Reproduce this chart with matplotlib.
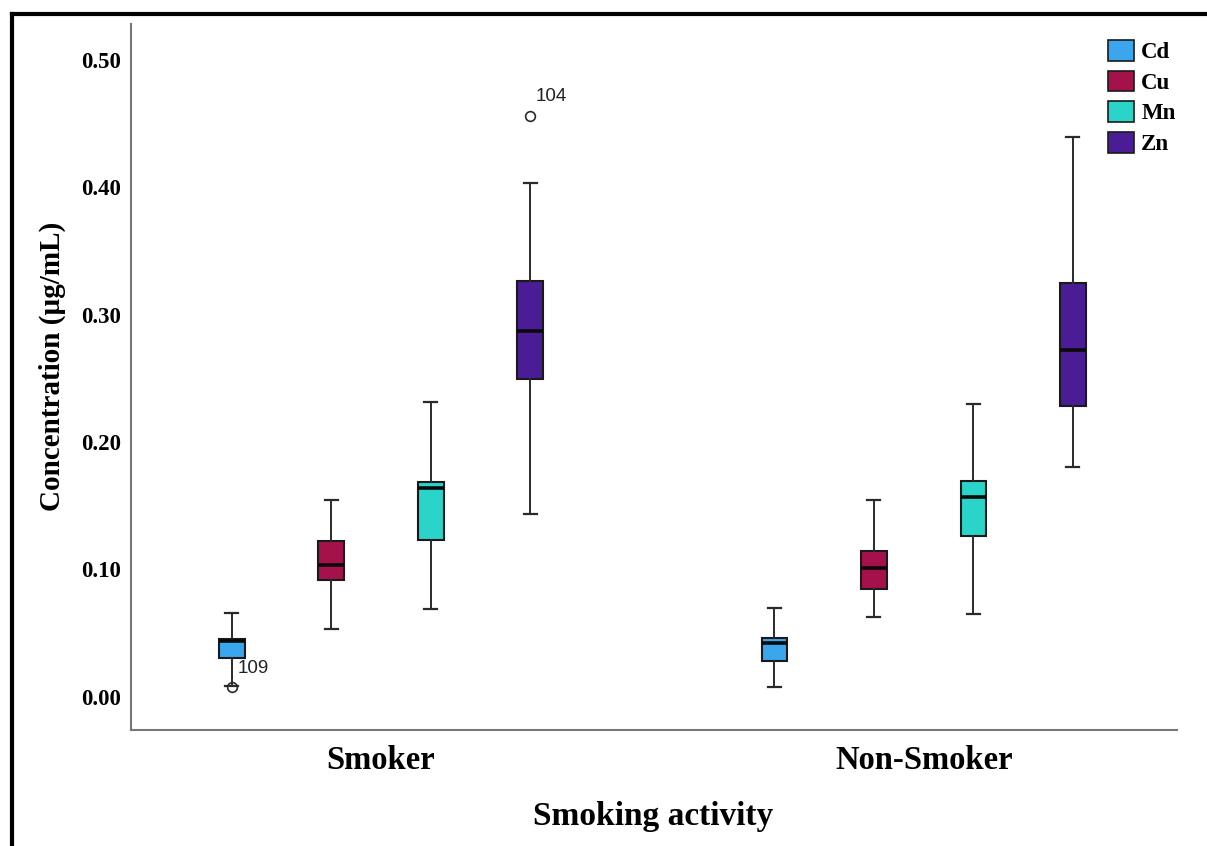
import matplotlib
matplotlib.use("Agg")
import matplotlib.pyplot as plt
from matplotlib.lines import Line2D
from matplotlib.patches import Patch

# ---- data -------------------------------------------------------------
groups = ["Smoker", "Non-Smoker"]
metals = ["Cd", "Cu", "Mn", "Zn"]

# five-number summaries per metal (Cd, Cu, Mn, Zn), µg/mL
smoker_low = [0.0080, 0.0531, 0.0688, 0.1438]
smoker_q1 = [0.0306, 0.0920, 0.1234, 0.2495]
smoker_med = [0.0440, 0.1038, 0.1642, 0.2870]
smoker_q3 = [0.0455, 0.1221, 0.1686, 0.3265]
smoker_high = [0.0661, 0.1548, 0.2314, 0.4035]

nonsmoker_low = [0.0073, 0.0627, 0.0648, 0.1804]
nonsmoker_q1 = [0.0280, 0.0842, 0.1260, 0.2285]
nonsmoker_med = [0.0418, 0.1007, 0.1569, 0.2720]
nonsmoker_q3 = [0.0458, 0.1148, 0.1694, 0.3250]
nonsmoker_high = [0.0693, 0.1548, 0.2301, 0.4400]

# outlying cases: (group, metal, value, case id)
outlier_group = ["Smoker", "Smoker"]
outlier_metal = ["Cd", "Zn"]
outlier_value = [0.0072, 0.4560]
outlier_case = ["109", "104"]

y_ticks = [0.00, 0.10, 0.20, 0.30, 0.40, 0.50]

colors = ["#3aa6ee", "#a5124b", "#2ad4c8", "#4a1d96"]

# ---- figure -------------------------------------------------------------
W, H = 1207, 846
fig = plt.figure(figsize=(W / 100, H / 100), dpi=100)
fig.patch.set_facecolor("white")

ax_l, ax_r, ax_b, ax_t = 130.5, 1176.5, 730.0, 24.5
ax = fig.add_axes([ax_l / W, 1 - ax_b / H, (ax_r - ax_l) / W, (ax_b - ax_t) / H])

serif = ["Liberation Serif", "DejaVu Serif"]
sans = ["Liberation Sans", "DejaVu Sans"]

summaries = {
    "Smoker": (smoker_low, smoker_q1, smoker_med, smoker_q3, smoker_high),
    "Non-Smoker": (nonsmoker_low, nonsmoker_q1, nonsmoker_med, nonsmoker_q3, nonsmoker_high),
}

offsets = [-0.275, -0.0917, 0.0917, 0.275]
box_w = 0.047

flier_pos = {}
for gi, g in enumerate(groups):
    lo, q1, med, q3, hi = summaries[g]
    for mi, m in enumerate(metals):
        fl = [v for og, om, v in zip(outlier_group, outlier_metal, outlier_value)
              if og == g and om == m]
        stats = [dict(whislo=lo[mi], q1=q1[mi], med=med[mi], q3=q3[mi],
                      whishi=hi[mi], fliers=fl)]
        pos = gi + offsets[mi]
        flier_pos[(g, m)] = pos
        ax.bxp(stats, positions=[pos], widths=box_w, patch_artist=True,
               showfliers=True, manage_ticks=False,
               boxprops=dict(facecolor=colors[mi], edgecolor="#1a1a1a", linewidth=1.5),
               medianprops=dict(color="#0a0a0a", linewidth=2.6, solid_capstyle="butt"),
               whiskerprops=dict(color="#2a2a2a", linewidth=1.4),
               capprops=dict(color="#2a2a2a", linewidth=1.6),
               capwidths=0.024,
               flierprops=dict(marker="o", markersize=7, markerfacecolor="none",
                               markeredgecolor="#2a2a2a", markeredgewidth=1.2))

for og, om, v, cid in zip(outlier_group, outlier_metal, outlier_value, outlier_case):
    ax.annotate(cid, xy=(flier_pos[(og, om)], v), xytext=(4, 14),
                textcoords="offset points", ha="left", va="center",
                fontsize=13.5, family=sans, color="#222222")

ax.set_xlim(-0.4616, 1.4658)
ax.set_ylim(-0.0262, 0.528)

ax.set_yticks(y_ticks)
ax.set_yticklabels([f"{t:.2f}" for t in y_ticks], family=serif,
                   fontweight="bold", fontsize=16.5)
ax.set_xticks(range(len(groups)))
ax.set_xticklabels(groups, family=serif, fontweight="bold", fontsize=23.5)
ax.tick_params(axis="y", length=0, pad=7)
ax.tick_params(axis="x", length=0, pad=10.5)

for side in ("top", "right"):
    ax.spines[side].set_visible(False)
for side in ("left", "bottom"):
    ax.spines[side].set_color("#777777")
    ax.spines[side].set_linewidth(1.5)

ax.set_xlabel("Smoking activity", family=serif, fontweight="bold",
              fontsize=24, va="center")
ax.xaxis.set_label_coords(0.5, (ax_b - 816) / (ax_b - ax_t))
ax.set_ylabel("Concentration (µg/mL)", family=serif, fontweight="bold",
              fontsize=21, va="center")
ax.yaxis.set_label_coords((52.5 - ax_l) / (ax_r - ax_l), (ax_b - 366) / (ax_b - ax_t))

handles = [Patch(facecolor=c, edgecolor="#1a1a1a", linewidth=1.2) for c in colors]
fig.legend(handles, metals, loc="upper left",
           bbox_to_anchor=(1108 / W, 1 - 40 / H), frameon=False,
           prop=dict(family=serif, weight="bold", size=16.5),
           handlelength=1.15, handleheight=1.0, labelspacing=0.33,
           handletextpad=0.3, borderpad=0, borderaxespad=0)

# outer frame (top and left edges)
fig.add_artist(Line2D([12 / W, 12 / W], [0, 1 - 14.5 / H], transform=fig.transFigure,
                      color="black", linewidth=3, solid_capstyle="projecting"))
fig.add_artist(Line2D([12 / W, 1], [1 - 14.5 / H, 1 - 14.5 / H], transform=fig.transFigure,
                      color="black", linewidth=3, solid_capstyle="projecting"))

fig.savefig("out.png", dpi=100, facecolor="white")
